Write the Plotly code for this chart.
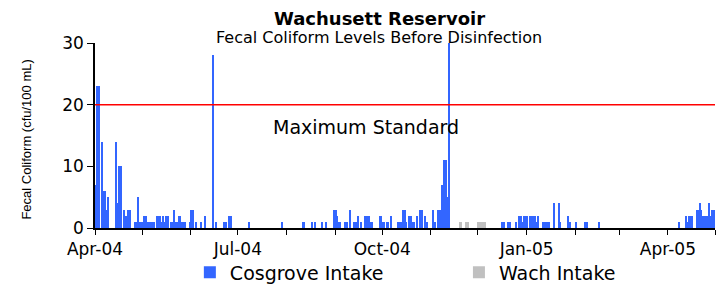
import plotly.graph_objects as go

# Cosgrove Intake samples (fecal coliform, cfu/100 mL)
cosgrove_dates = [
    "2004-04-01", "2004-04-02", "2004-04-03", "2004-04-05", "2004-04-06", "2004-04-07", "2004-04-08", "2004-04-09",
    "2004-04-14", "2004-04-15", "2004-04-16", "2004-04-17", "2004-04-19", "2004-04-20", "2004-04-21", "2004-04-22",
    "2004-04-23", "2004-04-26", "2004-04-27", "2004-04-28", "2004-04-29", "2004-04-30",
    "2004-05-01", "2004-05-02", "2004-05-03", "2004-05-04", "2004-05-05", "2004-05-06", "2004-05-07", "2004-05-08",
    "2004-05-10", "2004-05-11", "2004-05-12", "2004-05-13", "2004-05-14", "2004-05-15", "2004-05-16", "2004-05-17",
    "2004-05-19", "2004-05-20", "2004-05-21", "2004-05-22", "2004-05-23", "2004-05-24", "2004-05-25", "2004-05-26",
    "2004-05-27", "2004-05-28", "2004-05-31",
    "2004-06-01", "2004-06-02", "2004-06-04", "2004-06-07", "2004-06-10", "2004-06-15", "2004-06-17", "2004-06-22",
    "2004-06-23", "2004-06-25", "2004-06-26",
    "2004-07-08", "2004-07-29",
    "2004-08-11", "2004-08-12", "2004-08-17", "2004-08-19", "2004-08-23", "2004-08-26", "2004-08-31",
    "2004-09-01", "2004-09-02", "2004-09-03", "2004-09-04", "2004-09-07", "2004-09-08", "2004-09-10", "2004-09-13",
    "2004-09-14", "2004-09-15", "2004-09-17", "2004-09-20", "2004-09-21", "2004-09-22", "2004-09-23", "2004-09-24",
    "2004-09-29", "2004-09-30",
    "2004-10-01", "2004-10-02", "2004-10-04", "2004-10-06", "2004-10-11", "2004-10-12", "2004-10-13", "2004-10-14",
    "2004-10-15", "2004-10-16", "2004-10-18", "2004-10-19", "2004-10-20", "2004-10-21", "2004-10-23", "2004-10-25",
    "2004-10-26", "2004-10-28", "2004-10-29",
    "2004-11-02", "2004-11-03", "2004-11-05", "2004-11-06", "2004-11-07", "2004-11-08", "2004-11-09", "2004-11-10",
    "2004-11-11", "2004-11-12",
    "2004-12-16", "2004-12-17", "2004-12-20", "2004-12-21", "2004-12-25", "2004-12-27", "2004-12-28", "2004-12-29",
    "2004-12-30", "2004-12-31",
    "2005-01-01", "2005-01-03", "2005-01-04", "2005-01-05", "2005-01-06", "2005-01-07", "2005-01-08", "2005-01-11",
    "2005-01-12", "2005-01-13", "2005-01-14", "2005-01-15", "2005-01-18", "2005-01-21", "2005-01-22", "2005-01-27",
    "2005-01-28",
    "2005-02-01", "2005-02-07", "2005-02-08", "2005-02-16",
    "2005-04-08", "2005-04-12", "2005-04-13", "2005-04-14", "2005-04-15", "2005-04-16", "2005-04-19", "2005-04-20",
    "2005-04-21", "2005-04-22", "2005-04-23", "2005-04-24", "2005-04-25", "2005-04-26", "2005-04-27", "2005-04-28",
    "2005-04-29", "2005-04-30",
]
cosgrove_values = [
    7, 23, 23, 14, 6, 6, 3, 5,
    14, 4, 10, 10, 3, 2, 2, 3,
    3, 1, 1, 5, 1, 1,
    1, 2, 2, 1, 1, 1, 1, 1,
    2, 2, 2, 1, 2, 1, 2, 2,
    1, 1, 3, 1, 1, 2, 2, 1,
    1, 1, 1,
    3, 3, 1, 1, 2, 28, 1, 1,
    1, 2, 2,
    1, 1,
    1, 1, 1, 1, 1, 1, 3,
    3, 2, 1, 1, 1, 1, 3, 1,
    1, 2, 1, 2, 2, 2, 1, 1,
    2, 2,
    1, 1, 1, 2, 1, 1, 1, 3,
    3, 1, 2, 2, 1, 1, 2, 3,
    3, 2, 1,
    3, 1, 3, 3, 3, 7, 11, 11,
    5, 30,
    1, 1, 1, 1, 1, 2, 2, 1,
    2, 2,
    2, 2, 2, 2, 2, 1, 2, 1,
    1, 1, 1, 1, 4, 4, 1, 2,
    1,
    1, 1, 1, 1,
    1, 2, 1, 2, 2, 2, 3, 3,
    4, 3, 2, 2, 2, 2, 4, 2,
    3, 3,
]

# Wachusett Intake samples
wach_dates = ["2004-11-19", "2004-11-20", "2004-11-23", "2004-11-24",
              "2004-12-01", "2004-12-02", "2004-12-03", "2004-12-04", "2004-12-05"]
wach_values = [1, 1, 1, 1, 1, 1, 1, 1, 1]

max_standard = 20
y_ticks = [0, 10, 20, 30]

TITLE = "Wachusett Reservoir"
SUBTITLE = "Fecal Coliform Levels Before Disinfection"
Y_TITLE = "Fecal Coliform (cfu/100 mL)"

DAY_MS = 86400000
FONT = "DejaVu Sans"

fig = go.Figure()
fig.add_trace(go.Bar(
    x=cosgrove_dates, y=cosgrove_values, name="Cosgrove Intake",
    marker=dict(color="#3366FF", line=dict(width=0)),
    width=DAY_MS, xperiod=DAY_MS, xperiodalignment="middle",
    legend="legend",
))
fig.add_trace(go.Bar(
    x=wach_dates, y=wach_values, name="Wach Intake",
    marker=dict(color="#C0C0C0", line=dict(width=0)),
    width=DAY_MS, xperiod=DAY_MS, xperiodalignment="middle",
    legend="legend2",
))

fig.add_shape(type="line", xref="paper", x0=0, x1=1, yref="y",
              y0=max_standard, y1=max_standard,
              line=dict(color="#FF0000", width=1.5))

fig.add_annotation(text="Maximum Standard", xref="paper", yref="y",
                   x=0.437, y=16.4, showarrow=False,
                   font=dict(family=FONT, size=19, color="black"))
fig.add_annotation(text="<b>" + TITLE + "</b>", xref="paper", yref="paper",
                   x=0.459, y=1.135, yanchor="middle", showarrow=False,
                   font=dict(family=FONT, size=18, color="black"))
fig.add_annotation(text=SUBTITLE, xref="paper", yref="paper",
                   x=0.458, y=1.032, yanchor="middle", showarrow=False,
                   font=dict(family=FONT, size=16, color="black"))
fig.add_annotation(text=Y_TITLE, xref="paper", yref="paper",
                   x=-0.126, y=0.48, showarrow=False, textangle=-90,
                   font=dict(family="Liberation Sans", size=13, color="black"))

legend_common = dict(orientation="h", xanchor="left", yref="paper", y=-0.24, yanchor="middle",
                     font=dict(family=FONT, size=19, color="black"),
                     bgcolor="rgba(0,0,0,0)", borderwidth=0, itemclick=False, itemdoubleclick=False)

fig.update_layout(
    width=726, height=286,
    margin=dict(l=95, r=11, t=43, b=58, autoexpand=False),
    paper_bgcolor="white", plot_bgcolor="white",
    barmode="overlay", bargap=0,
    font=dict(family=FONT, color="black"),
    showlegend=True,
    legend=dict(x=0.153, **legend_common),
    legend2=dict(x=0.587, **legend_common),
    xaxis=dict(
        type="date", range=["2004-04-01", "2005-05-01"],
        tick0="2004-04-01", dtick="M3", tickformat="%b-%y",
        ticks="outside", ticklen=5, tickcolor="black",
        showline=True, linecolor="black", linewidth=1.5,
        showgrid=False, zeroline=False,
        tickfont=dict(family=FONT, size=17, color="black"),
        minor=dict(dtick="M1", tick0="2004-04-01", ticks="outside", ticklen=5, tickcolor="black", showgrid=False),
    ),
    yaxis=dict(
        range=[0, 30], tickvals=y_ticks,
        ticks="outside", ticklen=6, tickcolor="black",
        showline=True, linecolor="black", linewidth=1.5,
        showgrid=False, zeroline=False,
        tickfont=dict(family=FONT, size=17, color="black"),
    ),
)

fig.write_html("out.html", config={"displayModeBar": False},
               post_script="document.body.style.margin='0px';document.body.style.overflow='hidden';")
